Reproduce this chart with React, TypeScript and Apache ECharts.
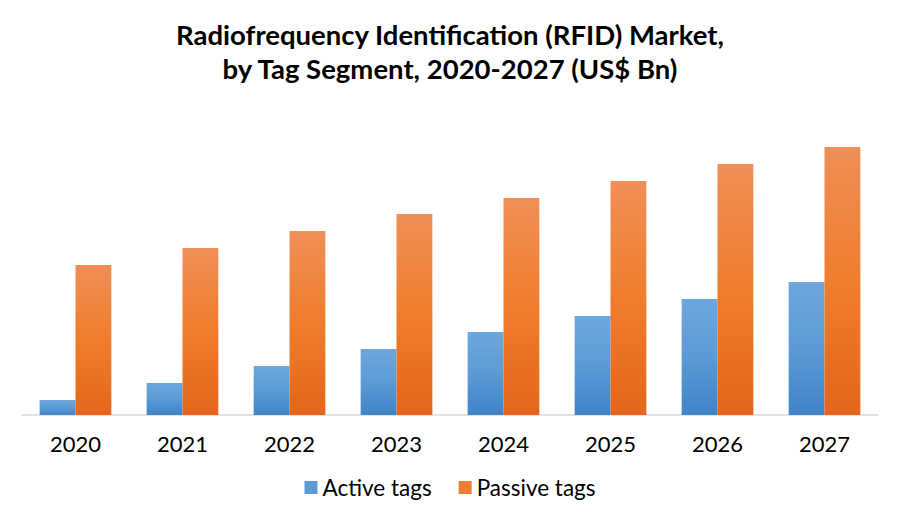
import React, { useEffect, useRef } from "react";
import * as echarts from "echarts";

const categories = ["2020", "2021", "2022", "2023", "2024", "2025", "2026", "2027"];
const activeTags = [1.5, 3.2, 4.9, 6.6, 8.3, 9.9, 11.6, 13.3];
const passiveTags = [15.0, 16.7, 18.4, 20.1, 21.7, 23.4, 25.1, 26.8];
const seriesNames = ["Active tags", "Passive tags"];

export default function App() {
  const ref = useRef<HTMLDivElement>(null);
  useEffect(() => {
    if (!ref.current) return;
    const chart = echarts.init(ref.current, null, { renderer: "svg" });
    const blue = new echarts.graphic.LinearGradient(0, 0, 0, 1, [
      { offset: 0, color: "#6ea6dd" },
      { offset: 0.5, color: "#5b9bd5" },
      { offset: 1, color: "#3f84c8" },
    ]);
    const orange = new echarts.graphic.LinearGradient(0, 0, 0, 1, [
      { offset: 0, color: "#f08f58" },
      { offset: 0.5, color: "#ef7d2c" },
      { offset: 1, color: "#e4661a" },
    ]);
    chart.setOption({
      animation: false,
      title: {
        text: "Radiofrequency Identification (RFID) Market,\nby Tag Segment, 2020-2027 (US$ Bn)",
        left: "center",
        top: 12,
        textStyle: {
          fontFamily: "Lato",
          fontWeight: "bold",
          fontSize: 27.5,
          lineHeight: 34,
          color: "#000",
        },
      },
      legend: {
        bottom: 22,
        left: "center",
        itemWidth: 13,
        itemHeight: 13,
        itemGap: 27,
        icon: "rect",
        textStyle: { fontFamily: "Lato", fontSize: 22.5, color: "#000" },
        data: [
          { name: seriesNames[0], itemStyle: { color: "#5b9bd5" } },
          { name: seriesNames[1], itemStyle: { color: "#ed7d31" } },
        ],
      },
      grid: { left: 22, right: 22, top: 115, bottom: 111 },
      xAxis: {
        type: "category",
        data: categories,
        axisLine: { lineStyle: { color: "#d9d9d9", width: 1.5 } },
        axisTick: { show: false },
        axisLabel: { fontFamily: "Lato", fontSize: 22, color: "#000", margin: 17 },
      },
      yAxis: {
        type: "value",
        min: 0,
        max: 30,
        show: false,
        splitLine: { show: false },
      },
      series: [
        {
          name: seriesNames[0],
          type: "bar",
          data: activeTags,
          barGap: "0%",
          barCategoryGap: "33%",
          itemStyle: { color: blue },
        },
        {
          name: seriesNames[1],
          type: "bar",
          data: passiveTags,
          itemStyle: { color: orange },
        },
      ],
    });
    return () => chart.dispose();
  }, []);
  return <div ref={ref} style={{ width: 900, height: 526, margin: -8 }} />;
}
